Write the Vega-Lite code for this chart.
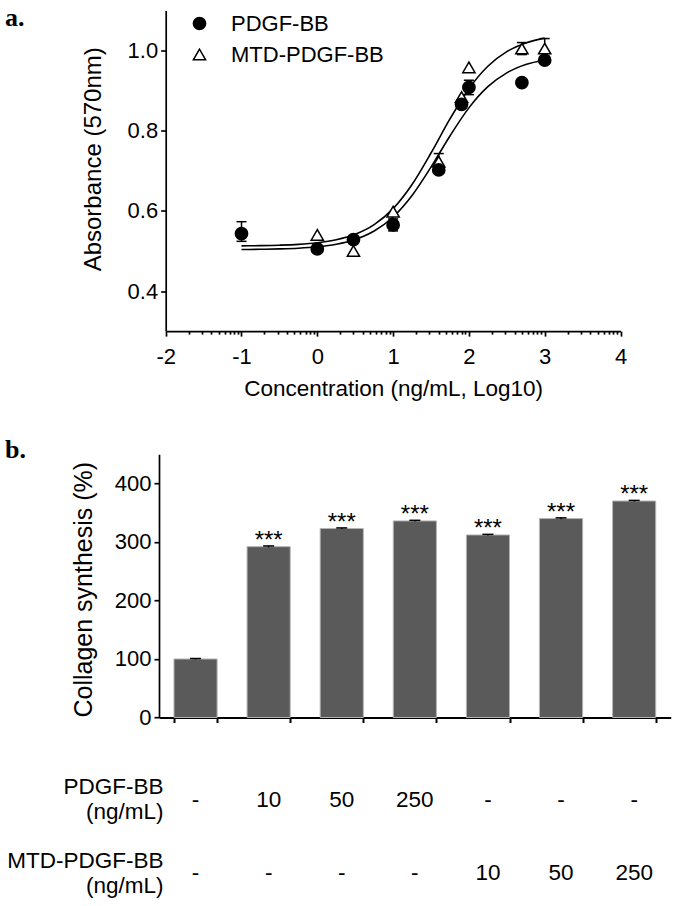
{
  "$schema": "https://vega.github.io/schema/vega-lite/v6.json",
  "padding": {"left": 5, "top": 4.5, "right": 5, "bottom": 5},
  "background": "white",
  "bounds": "flush",
  "spacing": 122.7,
  "config": {
    "font": "Liberation Sans",
    "view": {"stroke": null},
    "axis": {
      "grid": false,
      "domainColor": "black",
      "tickColor": "black",
      "labelColor": "black",
      "titleColor": "black",
      "labelFont": "Liberation Sans",
      "titleFont": "Liberation Sans",
      "labelFontSize": 22,
      "titleFontWeight": "normal",
      "domainWidth": 1.7,
      "tickWidth": 1.7,
      "labelFlush": false,
      "labelOverlap": false
    }
  },
  "datasets": {
    "curves": [
      {"s": "PDGF-BB", "x": -1, "y": 0.5036},
      {"s": "PDGF-BB", "x": -0.75, "y": 0.5041},
      {"s": "PDGF-BB", "x": -0.5, "y": 0.5051},
      {"s": "PDGF-BB", "x": -0.25, "y": 0.5069},
      {"s": "PDGF-BB", "x": 0, "y": 0.5104},
      {"s": "PDGF-BB", "x": 0.25, "y": 0.5168},
      {"s": "PDGF-BB", "x": 0.5, "y": 0.5287},
      {"s": "PDGF-BB", "x": 0.75, "y": 0.5498},
      {"s": "PDGF-BB", "x": 1, "y": 0.5848},
      {"s": "PDGF-BB", "x": 1.25, "y": 0.6384},
      {"s": "PDGF-BB", "x": 1.5, "y": 0.7092},
      {"s": "PDGF-BB", "x": 1.75, "y": 0.7869},
      {"s": "PDGF-BB", "x": 2, "y": 0.857},
      {"s": "PDGF-BB", "x": 2.25, "y": 0.9099},
      {"s": "PDGF-BB", "x": 2.5, "y": 0.9444},
      {"s": "PDGF-BB", "x": 2.75, "y": 0.965},
      {"s": "PDGF-BB", "x": 3, "y": 0.9765},
      {"s": "MTD-PDGF-BB", "x": -1, "y": 0.5127},
      {"s": "MTD-PDGF-BB", "x": -0.75, "y": 0.5132},
      {"s": "MTD-PDGF-BB", "x": -0.5, "y": 0.5144},
      {"s": "MTD-PDGF-BB", "x": -0.25, "y": 0.5165},
      {"s": "MTD-PDGF-BB", "x": 0, "y": 0.5205},
      {"s": "MTD-PDGF-BB", "x": 0.25, "y": 0.5279},
      {"s": "MTD-PDGF-BB", "x": 0.5, "y": 0.5415},
      {"s": "MTD-PDGF-BB", "x": 0.75, "y": 0.5656},
      {"s": "MTD-PDGF-BB", "x": 1, "y": 0.6055},
      {"s": "MTD-PDGF-BB", "x": 1.25, "y": 0.6658},
      {"s": "MTD-PDGF-BB", "x": 1.5, "y": 0.7444},
      {"s": "MTD-PDGF-BB", "x": 1.75, "y": 0.8294},
      {"s": "MTD-PDGF-BB", "x": 2, "y": 0.9049},
      {"s": "MTD-PDGF-BB", "x": 2.25, "y": 0.961},
      {"s": "MTD-PDGF-BB", "x": 2.5, "y": 0.9974},
      {"s": "MTD-PDGF-BB", "x": 2.75, "y": 1.0189},
      {"s": "MTD-PDGF-BB", "x": 3, "y": 1.031}
    ],
    "points": [
      {"s": "MTD-PDGF-BB", "x": 0, "y": 0.54},
      {"s": "MTD-PDGF-BB", "x": 0.477, "y": 0.5},
      {"s": "MTD-PDGF-BB", "x": 1, "y": 0.598},
      {"s": "MTD-PDGF-BB", "x": 1.602, "y": 0.723, "lo": 0.704, "hi": 0.743},
      {"s": "MTD-PDGF-BB", "x": 1.903, "y": 0.884},
      {"s": "MTD-PDGF-BB", "x": 2, "y": 0.958},
      {"s": "MTD-PDGF-BB", "x": 2.699, "y": 1.005, "lo": 0.99, "hi": 1.02},
      {"s": "MTD-PDGF-BB", "x": 3, "y": 1.005, "lo": 0.98, "hi": 1.03},
      {"s": "PDGF-BB", "x": -1, "y": 0.543, "lo": 0.524, "hi": 0.573},
      {"s": "PDGF-BB", "x": 0, "y": 0.505},
      {"s": "PDGF-BB", "x": 0.477, "y": 0.528},
      {"s": "PDGF-BB", "x": 1, "y": 0.565, "lo": 0.55, "hi": 0.58},
      {"s": "PDGF-BB", "x": 1.602, "y": 0.702},
      {"s": "PDGF-BB", "x": 1.903, "y": 0.866},
      {"s": "PDGF-BB", "x": 2, "y": 0.908, "lo": 0.89, "hi": 0.926},
      {"s": "PDGF-BB", "x": 2.699, "y": 0.92},
      {"s": "PDGF-BB", "x": 3, "y": 0.976}
    ],
    "bars": [
      {"g": "ctrl", "v": 100, "lo": 99.2, "hi": 100.8, "sig": ""},
      {"g": "P10", "v": 292, "lo": 290.8, "hi": 293.2, "sig": "***"},
      {"g": "P50", "v": 323, "lo": 322, "hi": 324, "sig": "***"},
      {"g": "P250", "v": 336, "lo": 335, "hi": 337, "sig": "***"},
      {"g": "M10", "v": 312, "lo": 311, "hi": 313, "sig": "***"},
      {"g": "M50", "v": 340, "lo": 339, "hi": 341.2, "sig": "***"},
      {"g": "M250", "v": 370, "lo": 369, "hi": 371, "sig": "***"}
    ],
    "table": [
      {"g": "ctrl", "row": "PDGF-BB (ng/mL)", "val": "-"},
      {"g": "P10", "row": "PDGF-BB (ng/mL)", "val": "10"},
      {"g": "P50", "row": "PDGF-BB (ng/mL)", "val": "50"},
      {"g": "P250", "row": "PDGF-BB (ng/mL)", "val": "250"},
      {"g": "M10", "row": "PDGF-BB (ng/mL)", "val": "-"},
      {"g": "M50", "row": "PDGF-BB (ng/mL)", "val": "-"},
      {"g": "M250", "row": "PDGF-BB (ng/mL)", "val": "-"},
      {"g": "ctrl", "row": "MTD-PDGF-BB (ng/mL)", "val": "-"},
      {"g": "P10", "row": "MTD-PDGF-BB (ng/mL)", "val": "-"},
      {"g": "P50", "row": "MTD-PDGF-BB (ng/mL)", "val": "-"},
      {"g": "P250", "row": "MTD-PDGF-BB (ng/mL)", "val": "-"},
      {"g": "M10", "row": "MTD-PDGF-BB (ng/mL)", "val": "10"},
      {"g": "M50", "row": "MTD-PDGF-BB (ng/mL)", "val": "50"},
      {"g": "M250", "row": "MTD-PDGF-BB (ng/mL)", "val": "250"}
    ]
  },
  "vconcat": [
    {
      "width": 461.5,
      "height": 320.6,
      "title": {"text": "a.", "anchor": "start", "frame": "group", "font": "Liberation Serif", "fontSize": 26, "fontWeight": "bold", "color": "black", "baseline": "alphabetic", "offset": 0, "dx": -154, "dy": 41.3},
      "encoding": {
        "x": {
          "field": "x", "type": "quantitative",
          "scale": {"domain": [-2, 4], "range": [6.7, 461.5], "nice": false, "zero": false},
          "axis": {
            "title": "Concentration (ng/mL, Log10)",
            "titleFontSize": 22.5,
            "titlePadding": 10,
            "labelPadding": 10,
            "values": [-2, -1.699, -1.523, -1.398, -1.301, -1.222, -1.155, -1.097, -1.046, -1, -0.699, -0.523, -0.398, -0.301, -0.222, -0.155, -0.097, -0.046, 0, 0.301, 0.477, 0.602, 0.699, 0.778, 0.845, 0.903, 0.954, 1, 1.301, 1.477, 1.602, 1.699, 1.778, 1.845, 1.903, 1.954, 2, 2.301, 2.477, 2.602, 2.699, 2.778, 2.845, 2.903, 2.954, 3, 3.301, 3.477, 3.602, 3.699, 3.778, 3.845, 3.903, 3.954, 4],
            "labelExpr": "abs(datum.value - round(datum.value)) < 0.001 ? (datum.value < 0 ? '-' + abs(round(datum.value)) : '' + round(datum.value)) : ''",
            "tickSize": {"condition": {"test": "abs(datum.value - round(datum.value)) < 0.001", "value": 5}, "value": 3}
          }
        }
      },
      "layer": [
        {
          "data": {"name": "curves"},
          "mark": {"type": "line", "color": "black", "strokeWidth": 1.6, "interpolate": "monotone"},
          "encoding": {
            "y": {
              "field": "y", "type": "quantitative", "title": "Absorbance (570nm)",
              "scale": {"domain": [0.3, 1.1], "nice": false, "zero": false},
              "axis": {"values": [0.4, 0.6, 0.8, 1.0], "format": ".1f", "tickSize": 5, "labelPadding": 3, "offset": -6.7, "titleFontSize": 24, "titleX": -72.7, "titleY": 148.3, "titleBaseline": "middle", "titleAngle": -90}
            },
            "detail": {"field": "s"}
          }
        },
        {
          "data": {"name": "points"},
          "transform": [{"filter": "isValid(datum.hi)"}],
          "mark": {"type": "rule", "color": "black", "strokeWidth": 1.5},
          "encoding": {
            "y": {"field": "lo", "type": "quantitative", "title": "Absorbance (570nm)"},
            "y2": {"field": "hi"}
          }
        },
        {
          "data": {"name": "points"},
          "transform": [{"filter": "isValid(datum.hi)"}],
          "mark": {"type": "tick", "orient": "horizontal", "color": "black", "size": 10, "thickness": 1.5, "opacity": 1},
          "encoding": {
            "y": {"field": "hi", "type": "quantitative", "title": "Absorbance (570nm)"}
          }
        },
        {
          "data": {"name": "points"},
          "transform": [{"filter": "isValid(datum.lo)"}],
          "mark": {"type": "tick", "orient": "horizontal", "color": "black", "size": 10, "thickness": 1.5, "opacity": 1},
          "encoding": {
            "y": {"field": "lo", "type": "quantitative", "title": "Absorbance (570nm)"}
          }
        },
        {
          "data": {"name": "points"},
          "mark": {"type": "point", "filled": true, "size": 150, "stroke": "black", "strokeWidth": 1.5, "opacity": 1},
          "encoding": {
            "y": {"field": "y", "type": "quantitative", "title": "Absorbance (570nm)"},
            "shape": {
              "field": "s", "type": "nominal",
              "scale": {"domain": ["PDGF-BB", "MTD-PDGF-BB"], "range": ["circle", "triangle-up"]},
              "legend": {"title": null, "orient": "none", "legendX": 29.5, "legendY": 2, "labelFontSize": 22, "labelColor": "black", "symbolSize": 150, "labelOffset": 20.5, "rowPadding": 9, "padding": 0, "encode": {"symbols": {"update": {"stroke": {"value": "black"}, "strokeWidth": {"value": 1.5}}}}}
            },
            "fill": {
              "field": "s", "type": "nominal",
              "scale": {"domain": ["PDGF-BB", "MTD-PDGF-BB"], "range": ["black", "white"]},
              "legend": {"title": null, "orient": "none", "legendX": 29.5, "legendY": 2, "labelFontSize": 22, "labelColor": "black", "symbolSize": 150, "labelOffset": 20.5, "rowPadding": 9, "padding": 0, "encode": {"symbols": {"update": {"stroke": {"value": "black"}, "strokeWidth": {"value": 1.5}}}}}
            }
          }
        }
      ]
    },
    {
      "bounds": "flush",
      "spacing": 45,
      "vconcat": [
        {
          "width": 511.7,
          "height": 263.3,
          "title": {"text": "b.", "anchor": "start", "frame": "group", "font": "Liberation Serif", "fontSize": 26, "fontWeight": "bold", "color": "black", "baseline": "alphabetic", "offset": 0, "dx": -154, "dy": 30},
          "data": {"name": "bars"},
          "encoding": {
            "x": {
              "field": "g", "type": "nominal",
              "scale": {"type": "band", "domain": ["ctrl", "P10", "P50", "P250", "M10", "M50", "M250"], "paddingInner": 0.41, "paddingOuter": 0.205},
              "axis": {"title": null, "labels": false, "tickBand": "extent", "tickSize": 5, "tickWidth": 2, "domainWidth": 2}
            }
          },
          "layer": [
            {
              "mark": {"type": "bar", "fill": "#5a5a5a", "stroke": "#b4b4b4", "strokeWidth": 1},
              "encoding": {
                "y": {
                  "field": "v", "type": "quantitative", "title": "Collagen synthesis (%)",
                  "scale": {"domain": [0, 450], "nice": false},
                  "axis": {"values": [0, 100, 200, 300, 400], "tickSize": 5, "labelPadding": 3, "titleFontSize": 25, "titleX": -76, "titleY": 135, "titleBaseline": "middle", "titleAngle": -90}
                }
              }
            },
            {
              "mark": {"type": "rule", "color": "black", "strokeWidth": 1.5},
              "encoding": {
                "y": {"field": "lo", "type": "quantitative", "title": "Collagen synthesis (%)"},
                "y2": {"field": "hi"}
              }
            },
            {
              "mark": {"type": "tick", "orient": "horizontal", "color": "black", "size": 11, "thickness": 1.5, "opacity": 1},
              "encoding": {
                "y": {"field": "hi", "type": "quantitative", "title": "Collagen synthesis (%)"}
              }
            },
            {
              "mark": {"type": "text", "fontSize": 24, "color": "black", "baseline": "alphabetic", "dy": 1},
              "encoding": {
                "y": {"field": "v", "type": "quantitative", "title": "Collagen synthesis (%)"},
                "text": {"field": "sig"}
              }
            }
          ]
        },
        {
          "width": 511.7,
          "height": 146.6,
          "data": {"name": "table"},
          "mark": {"type": "text", "fontSize": 22.5, "color": "black", "baseline": "middle"},
          "encoding": {
            "x": {
              "field": "g", "type": "nominal",
              "scale": {"type": "band", "domain": ["ctrl", "P10", "P50", "P250", "M10", "M50", "M250"], "paddingInner": 0.41, "paddingOuter": 0.205},
              "axis": null
            },
            "y": {
              "field": "row", "type": "nominal",
              "scale": {"type": "band", "domain": ["PDGF-BB (ng/mL)", "MTD-PDGF-BB (ng/mL)"], "paddingInner": 0, "paddingOuter": 0},
              "axis": {"title": null, "domain": false, "ticks": false, "tickSize": 0, "labelPadding": -4, "labelOffset": -12.5, "labelExpr": "split(datum.label, ' ')", "labelFontSize": 22.5, "labelLineHeight": 25, "labelAlign": "right", "labelBaseline": "middle"}
            },
            "text": {"field": "val"}
          }
        }
      ]
    }
  ]
}
